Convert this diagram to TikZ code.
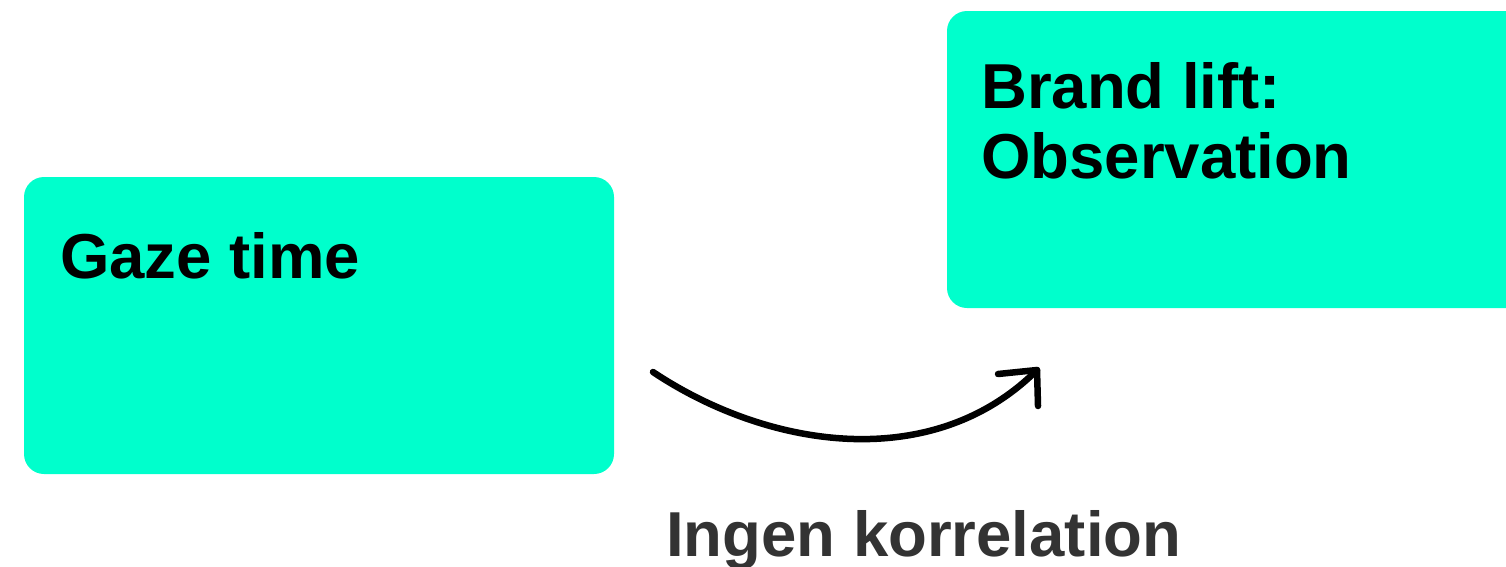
\documentclass[tikz,border=0pt]{standalone}
\usepackage{fontspec}
\setmainfont{Liberation Sans}
\definecolor{boxfill}{HTML}{00FFCC}
\definecolor{labelgray}{HTML}{333333}
\begin{document}
\begin{tikzpicture}[x=1pt,y=-1pt,
  box/.style={fill=boxfill, draw=none, rounded corners=20pt, inner sep=0pt},
  title/.style={font=\fontsize{63.5}{70}\selectfont\bfseries, text=black, inner sep=0pt, anchor=base west, align=left},
  lbl/.style={font=\fontsize{63.5}{70}\selectfont\bfseries, text=labelgray, inner sep=0pt, anchor=base west},
  conn/.style={line width=6.5pt, line cap=round, line join=round, black}]
\clip (0,0) rectangle (1506,566);
\node[box, minimum width=590pt, minimum height=297pt] (gaze) at (319,325.5) {};
\node[box, minimum width=600pt, minimum height=297pt] (brand) at (1247,159.5) {};
\node[title] (gazet) at (60,278) {Gaze time};
\node[title] (brandt1) at (981,108) {Brand lift:};
\node[title] (brandt2) at (981,178) {Observation};
\node[lbl] (ingen) at (666,556) {Ingen korrelation};
\coordinate (s) at (653,372);
\coordinate (e) at (1037,370);
\coordinate (h1) at (998,374);
\coordinate (h2) at (1038,406);
\draw[conn] (s) .. controls (770,450) and (934,473) .. (e);
\draw[conn] (h1) -- (e) -- (h2);
\end{tikzpicture}
\end{document}
